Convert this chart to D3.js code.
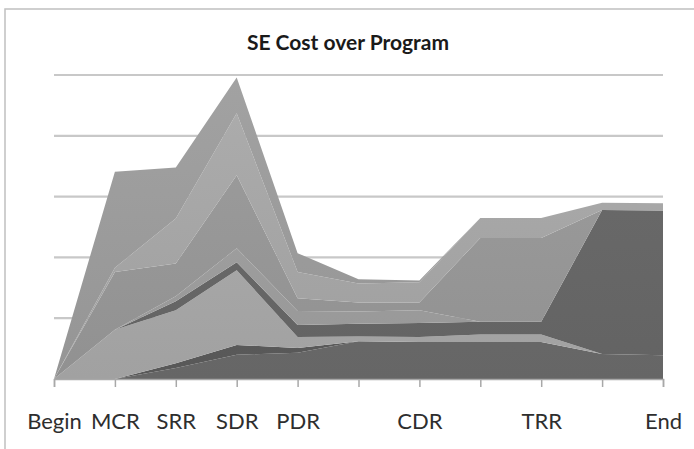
<!DOCTYPE html>
<html>
<head>
<meta charset="utf-8">
<script src="https://cdn.jsdelivr.net/npm/d3@7"></script>
<style>
html,body{margin:0;padding:0;background:#fff;}
svg{display:block;}
</style>
</head>
<body>
<svg id="chart" width="694" height="449"></svg>
<script>
// ---- data ----
const categories = ["Begin","MCR","SRR","SDR","PDR","","CDR","","TRR","","End"];
const yTicks = [0, 1, 2, 3, 4, 5];
const s1 = [0, 0, 0.18, 0.40, 0.43, 0.62, 0.61, 0.61, 0.61, 0.41, 0.39];
const s2 = [0, 0, 0.08, 0.16, 0.08, 0, 0, 0, 0, 0, 0];
const s3 = [0, 0.81, 0.87, 1.23, 0.18, 0.08, 0.08, 0.12, 0.12, 0, 0];
const s4 = [0, 0, 0.15, 0.13, 0.20, 0.21, 0.23, 0.21, 0.21, 2.37, 2.38];
const s5 = [0, 0, 0.08, 0.23, 0.23, 0.20, 0.21, 0, 0, 0, 0];
const s6 = [0, 0.95, 0.54, 1.20, 0.21, 0.15, 0.13, 1.38, 1.38, 0, 0];
const s7 = [0, 0.07, 0.74, 1.02, 0.43, 0.31, 0.33, 0.33, 0.33, 0.12, 0.12];
const s8 = [0, 1.58, 0.84, 0.59, 0.31, 0.07, 0.03, 0, 0, 0, 0];
const seriesNames = ["S1","S2","S3","S4","S5","S6","S7","S8"];
const seriesValues = [s1, s2, s3, s4, s5, s6, s7, s8];
const seriesColors = ["#6a6a6a","#5c5c5c","#a8a8a8","#676767","#9e9e9e","#979797","#a6a6a6","#9b9b9b"];

// ---- build table ----
const table = categories.map((c, i) => {
  const row = {idx: i};
  seriesNames.forEach((n, k) => row[n] = seriesValues[k][i]);
  return row;
});

const svg = d3.select("#chart");
const x = d3.scalePoint().domain(categories.map((c, i) => i)).range([54, 663]);
const y = d3.scaleLinear().domain([0, 5]).range([379, 75]);

// chart border
svg.append("rect").attr("x", 5).attr("y", 9).attr("width", 720).attr("height", 480)
  .attr("fill", "none").attr("stroke", "#c0c0c0").attr("stroke-width", 1.5);

// title
svg.append("text").attr("x", 348).attr("y", 50).attr("text-anchor", "middle")
  .attr("font-family", "Lato, 'Open Sans', sans-serif").attr("font-weight", "bold")
  .attr("font-size", 21).attr("fill", "#1a1a1a").text("SE Cost over Program");

// gridlines
svg.append("g").selectAll("line").data(yTicks.filter(d => d > 0)).join("line")
  .attr("x1", x.range()[0]).attr("x2", x.range()[1])
  .attr("y1", d => y(d)).attr("y2", d => y(d))
  .attr("stroke", "#c8c8c8").attr("stroke-width", 2.2);

// gradients
const defs = svg.append("defs");
seriesColors.forEach((c, k) => {
  const g = defs.append("linearGradient").attr("id", "g" + k)
    .attr("gradientUnits", "userSpaceOnUse").attr("x1", 0).attr("x2", 0)
    .attr("y1", y(5)).attr("y2", y(0));
  g.append("stop").attr("offset", 0).attr("stop-color", d3.color(c).brighter(0.12));
  g.append("stop").attr("offset", 1).attr("stop-color", d3.color(c).darker(0.12));
});

// stacked areas
const stack = d3.stack().keys(seriesNames);
const stacked = stack(table);
const area = d3.area().x(d => x(d.data.idx)).y0(d => y(d[0])).y1(d => y(d[1]));
svg.append("g").selectAll("path").data(stacked).join("path")
  .attr("d", area).attr("fill", (d, k) => "url(#g" + k + ")");

// x axis
const axis = d3.axisBottom(x).tickSize(8).tickFormat(i => categories[i]);
const ax = svg.append("g").attr("transform", "translate(0,379)").call(axis);
ax.select(".domain").attr("stroke", "#a8a8a8").attr("stroke-width", 1.5);
ax.selectAll(".tick line").attr("stroke", "#a8a8a8").attr("stroke-width", 1.5);
ax.selectAll(".tick text").attr("font-family", "Lato, 'Open Sans', sans-serif")
  .attr("font-size", 22).attr("fill", "#2e2e2e").attr("dy", 0).attr("y", 50);
</script>
</body>
</html>
